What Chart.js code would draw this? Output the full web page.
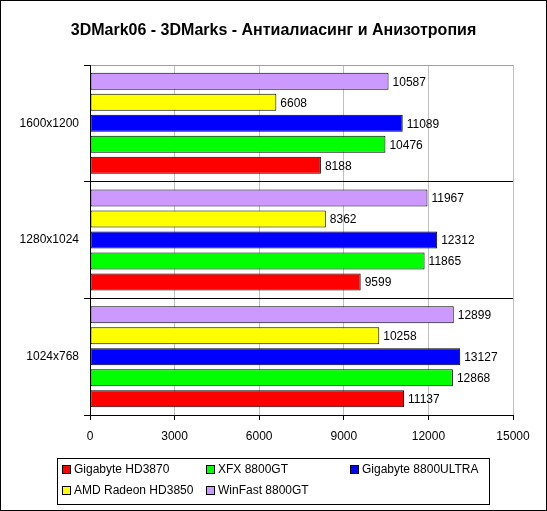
<!DOCTYPE html>
<html>
<head>
<meta charset="utf-8">
<script src="https://cdn.jsdelivr.net/npm/chart.js@4"></script>
<style>
    body { margin: 0; background: #fff; }
    #wrap { position: relative; width: 547px; height: 511px; }
    #frame { position: absolute; left: 0; top: 0; width: 545px; height: 509px; border: 1px solid #000; pointer-events: none; }
    #legend {
        position: absolute; left: 57px; top: 458px; width: 431px; height: 45px;
        border: 1px solid #000; font: 12px "Liberation Sans", Arial, sans-serif; color: #000;
    }
    .item { position: absolute; display: flex; align-items: center; white-space: nowrap; }
    .sw { width: 7px; height: 7px; border: 1px solid #000; margin-right: 3px; }
</style>
</head>
<body>
<div id="wrap">
    <canvas id="chart" width="547" height="511"></canvas>
    <div id="legend"></div>
    <div id="frame"></div>
</div>
<script>
const title = "3DMark06 - 3DMarks - Антиалиасинг и Анизотропия";
const categories = ["1600x1200", "1280x1024", "1024x768"];

const winfast8800gt = [10587, 11967, 12899];
const amdHD3850 = [6608, 8362, 10258];
const gigabyte8800ultra = [11089, 12312, 13127];
const xfx8800gt = [10476, 11865, 12868];
const gigabyteHD3870 = [8188, 9599, 11137];

const xTicks = [0, 3000, 6000, 9000, 12000, 15000];

const font = "'Liberation Sans', Arial, sans-serif";

// top-to-bottom order inside each group
const datasets = [
    { label: "WinFast 8800GT", data: winfast8800gt, backgroundColor: "#CC99FF" },
    { label: "AMD Radeon HD3850", data: amdHD3850, backgroundColor: "#FFFF00" },
    { label: "Gigabyte 8800ULTRA", data: gigabyte8800ultra, backgroundColor: "#0000FF" },
    { label: "XFX 8800GT", data: xfx8800gt, backgroundColor: "#00FF00" },
    { label: "Gigabyte HD3870", data: gigabyteHD3870, backgroundColor: "#FF0000" }
];
datasets.forEach(d => {
    d.borderColor = "#000";
    d.borderWidth = 1;
    d.borderSkipped = false;
    d.categoryPercentage = 0.9;
    d.barPercentage = 0.81;
});

// values at bar ends + title centred on the whole picture
const extras = {
    id: "extras",
    afterDatasetsDraw(chart) {
        const ctx = chart.ctx;
        ctx.save();
        ctx.font = "12px " + font;
        ctx.fillStyle = "#000";
        ctx.textBaseline = "middle";
        ctx.textAlign = "left";
        chart.data.datasets.forEach((ds, i) => {
            chart.getDatasetMeta(i).data.forEach((bar, j) => {
                ctx.fillText(String(ds.data[j]), bar.x + 4, bar.y + 1);
            });
        });
        ctx.font = "bold 16px " + font;
        ctx.textAlign = "center";
        ctx.fillText(title, chart.width / 2, 31);
        ctx.restore();
    }
};

new Chart(document.getElementById("chart"), {
    type: "bar",
    data: { labels: categories, datasets: datasets },
    plugins: [extras],
    options: {
        indexAxis: "y",
        responsive: false,
        animation: false,
        layout: { padding: { left: 0, right: 34, top: 65, bottom: 66 } },
        plugins: {
            legend: { display: false },
            tooltip: { enabled: false },
            title: { display: false }
        },
        scales: {
            x: {
                min: 0,
                max: 15000,
                afterBuildTicks: scale => { scale.ticks = xTicks.map(v => ({ value: v })); },
                afterFit: scale => { scale.height = 30; },
                border: { color: "#000", width: 1 },
                grid: { color: "#c0c0c0", tickColor: "#000", tickLength: 5 },
                ticks: {
                    color: "#000",
                    padding: 9,
                    maxRotation: 0,
                    font: { family: font, size: 12 },
                    callback: v => String(v)
                }
            },
            y: {
                afterFit: scale => { scale.width = 90; },
                border: { color: "#000", width: 1 },
                grid: {
                    offset: true,
                    color: c => c.index === 0 ? "#a0a0a0" : "#000",
                    tickColor: "#000",
                    tickLength: 6
                },
                ticks: { color: "#000", padding: 5, font: { family: font, size: 12 } }
            }
        }
    }
});

// legend box, in the original's order
const legendOrder = datasets.slice().reverse();
const slots = [[4, 11], [148, 11], [292, 11], [4, 32], [148, 32]];
const legend = document.getElementById("legend");
legendOrder.forEach((d, i) => {
    const el = document.createElement("div");
    el.className = "item";
    el.style.left = slots[i][0] + "px";
    el.style.top = (slots[i][1] - 8) + "px";
    el.innerHTML = '<span class="sw" style="background:' + d.backgroundColor + '"></span>' + d.label;
    legend.appendChild(el);
});
</script>
</body>
</html>
